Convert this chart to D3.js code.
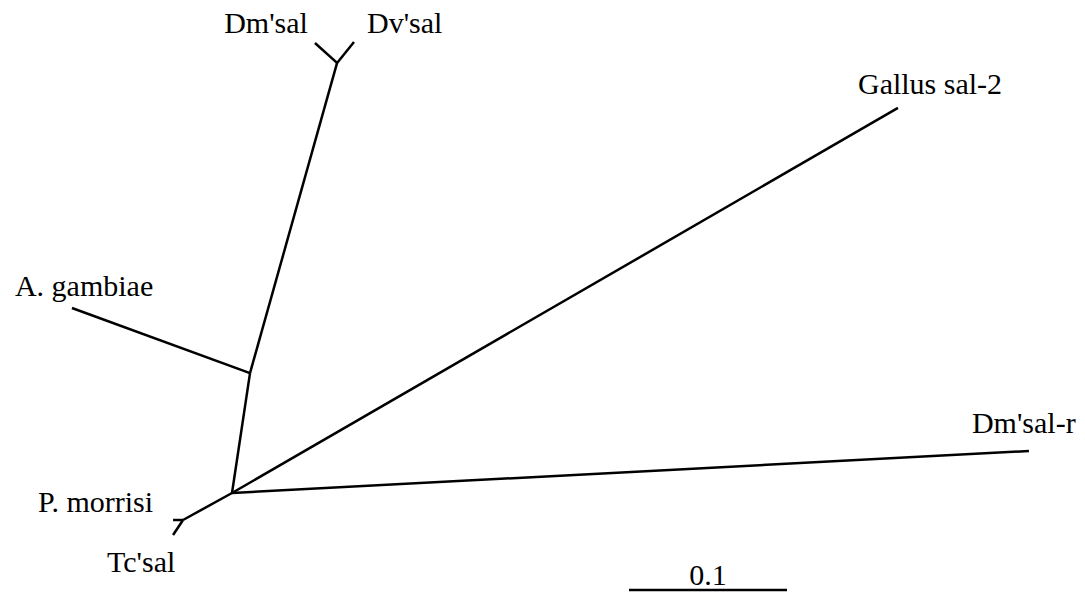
<!DOCTYPE html>
<html>
<head>
<meta charset="utf-8">
<script src="https://cdn.jsdelivr.net/npm/d3@7"></script>
<style>
  html, body { margin: 0; padding: 0; background: #fff; }
  svg { display: block; }
</style>
</head>
<body>
<svg id="chart" width="1085" height="592"></svg>
<script>
// Unrooted tree of sal proteins. Node coordinates are in substitutions per site,
// measured from the central node (x right, y up).
const nodeIds     = ["root", "n_tp", "Pm", "Tc", "n_ag", "Ag", "n_dd", "Dm", "Dv", "Gg", "Dmr"];
const nodeParents = [null, "root", "n_tp", "n_tp", "root", "n_ag", "n_ag", "n_dd", "n_dd", "root", "root"];
const nodeX       = [0, -0.0310, -0.0373, -0.0373, 0.0114, -0.1013, 0.0665, 0.0525, 0.0772, 0.4215, 0.5044];
const nodeY       = [0, -0.0171, -0.0171, -0.0266, 0.0759, 0.1171, 0.2722, 0.2848, 0.2854, 0.2437, 0.0266];
const leafLabels  = {Pm: "P. morrisi", Tc: "Tc'sal", Ag: "A. gambiae", Dm: "Dm'sal", Dv: "Dv'sal", Gg: "Gallus sal-2", Dmr: "Dm'sal-r"};
const scaleBarValue = 0.1;
const scaleBarLabel = "0.1";

const FONT = "'Liberation Serif', 'DejaVu Serif', serif";

const svg = d3.select("#chart");

// one distance unit maps to the same pixel length on both axes
const x = d3.scaleLinear().domain([0, 0.1]).range([232, 390]);
const y = d3.scaleLinear().domain([0, 0.1]).range([493, 335]);

const table = nodeIds.map((id, i) => ({id, parent: nodeParents[i], x: nodeX[i], y: nodeY[i]}));
const root = d3.stratify().id(d => d.id).parentId(d => d.parent)(table);

// branches
svg.append("g")
  .attr("fill", "none")
  .attr("stroke", "#000")
  .attr("stroke-width", 2.5)
  .selectAll("line")
  .data(root.links())
  .join("line")
    .attr("x1", d => x(d.source.data.x))
    .attr("y1", d => y(d.source.data.y))
    .attr("x2", d => x(d.target.data.x))
    .attr("y2", d => y(d.target.data.y));

// label placement relative to each tip (pixels)
const labelPlacement = {
  Dm:  {dx: -7,  dy: -10, anchor: "end"},
  Dv:  {dx: 13,  dy: -9,  anchor: "start"},
  Gg:  {dx: -40, dy: -14, anchor: "start"},
  Dmr: {dx: -57, dy: -18, anchor: "start"},
  Ag:  {dx: -57, dy: -12, anchor: "start"},
  Pm:  {dx: -20, dy: -8,  anchor: "end"},
  Tc:  {dx: -66, dy: 37,  anchor: "start"}
};

svg.append("g")
  .attr("font-family", FONT)
  .attr("font-size", 30)
  .attr("fill", "#000")
  .selectAll("text")
  .data(root.leaves())
  .join("text")
    .attr("x", d => x(d.data.x) + labelPlacement[d.id].dx)
    .attr("y", d => y(d.data.y) + labelPlacement[d.id].dy)
    .attr("text-anchor", d => labelPlacement[d.id].anchor)
    .text(d => leafLabels[d.id]);

// scale bar
const barX0 = 629, barY = 590;
const barLen = x(scaleBarValue) - x(0);
svg.append("line")
  .attr("x1", barX0).attr("x2", barX0 + barLen)
  .attr("y1", barY).attr("y2", barY)
  .attr("stroke", "#000").attr("stroke-width", 2.5);
svg.append("text")
  .attr("font-family", FONT)
  .attr("font-size", 30)
  .attr("x", barX0 + barLen / 2)
  .attr("y", barY - 5)
  .attr("text-anchor", "middle")
  .text(scaleBarLabel);
</script>
</body>
</html>
